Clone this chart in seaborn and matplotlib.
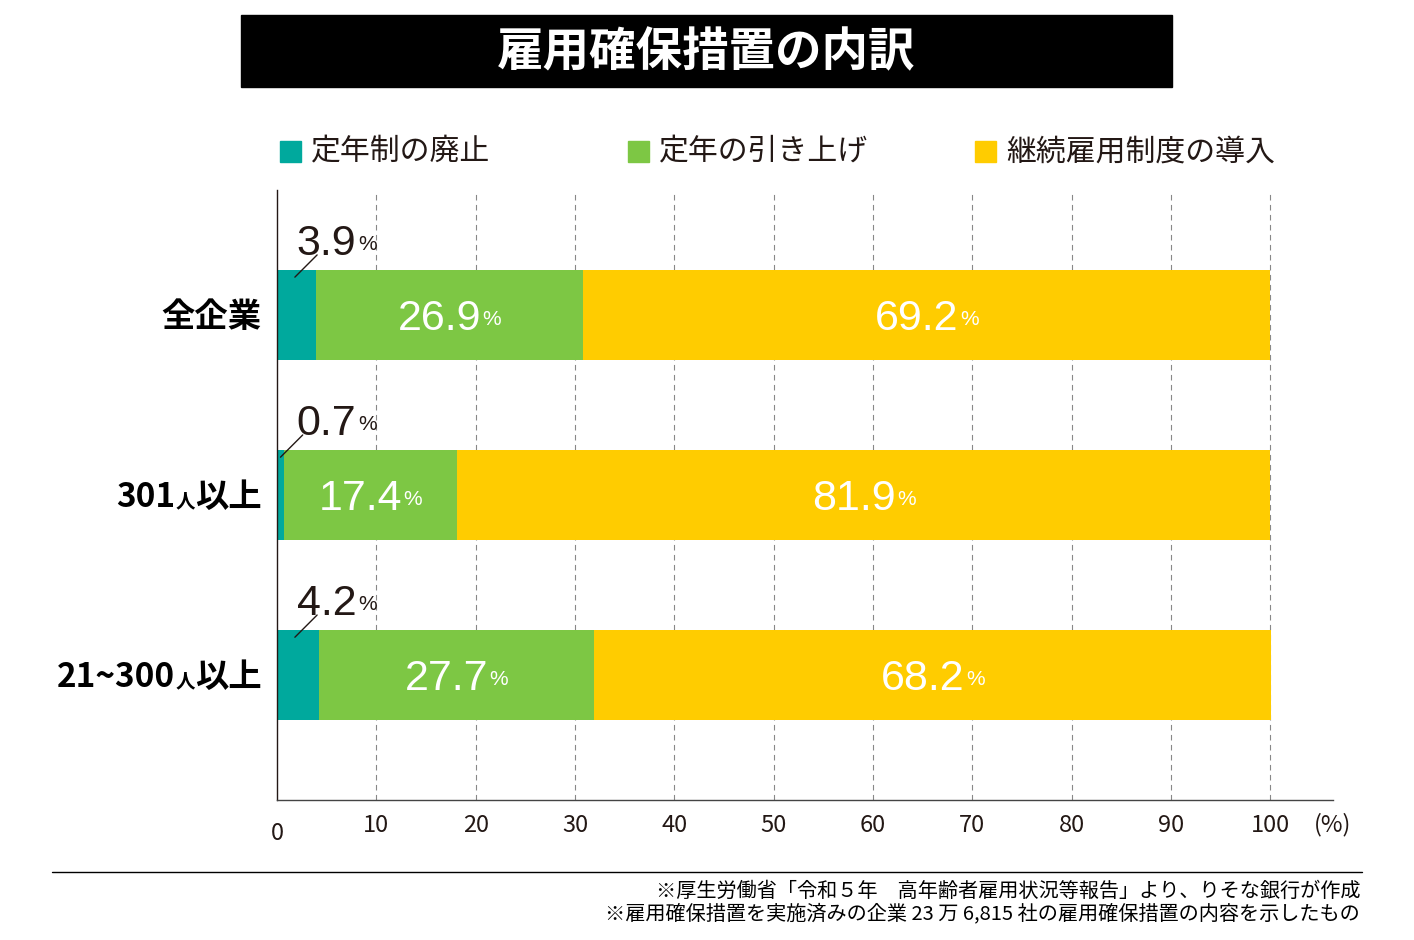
import numpy as np
import pandas as pd
import matplotlib
matplotlib.use('Agg')
import matplotlib.pyplot as plt
import seaborn as sns
from matplotlib.patches import Rectangle
from matplotlib.lines import Line2D
from matplotlib.offsetbox import TextArea, HPacker, AnnotationBbox

# ---------------------------------------------------------------------------
# Data
# ---------------------------------------------------------------------------
TITLE = '雇用確保措置の内訳'
categories = ['全企業', '301人以上', '21~300人以上']
series_names = ['定年制の廃止', '定年の引き上げ', '継続雇用制度の導入']
abolish = [3.9, 0.7, 4.2]
raise_age = [26.9, 17.4, 27.7]
continued = [69.2, 81.9, 68.2]
colors = ['#00A99D', '#7DC744', '#FFCC00']
x_ticks = [10, 20, 30, 40, 50, 60, 70, 80, 90, 100]
notes = ['※厚生労働省「令和５年　高年齢者雇用状況等報告」より、りそな銀行が作成',
         '※雇用確保措置を実施済みの企業 23 万 6,815 社の雇用確保措置の内容を示したもの']

W, H = 1414, 940
JP = ['Noto Sans CJK JP', 'DejaVu Sans']
NUM = ['Liberation Sans', 'DejaVu Sans']

sns.set_theme(style='white')
plt.rcParams['font.family'] = JP


def fx(px):
    return px / W


def fy(py):
    return 1 - py / H


def mixed(parts, sep=2, align='baseline'):
    boxes = [TextArea(t, textprops=dict(**kw)) for t, kw in parts]
    return HPacker(children=boxes, align=align, pad=0, sep=sep)


fig = plt.figure(figsize=(W / 100, H / 100), dpi=100)
ax = fig.add_axes([fx(277), fy(800), fx(1333 - 277), (800 - 190) / H])

# title box
fig.patches.append(Rectangle((fx(241), fy(87)), fx(1172 - 241), (87 - 15) / H,
                             transform=fig.transFigure, color='black'))
fig.text(fx(706), fy(52), TITLE, color='white', fontsize=33.5, fontweight='bold',
         ha='center', va='center')

# legend (manual, fixed slots)
for name, col, x0 in zip(series_names, colors, [280, 628, 975]):
    fig.patches.append(Rectangle((fx(x0), fy(162)), fx(21), 21 / H,
                                 transform=fig.transFigure, color=col))
    fig.text(fx(x0 + 31), fy(152), name, fontsize=21.5, color='#231815',
             ha='left', va='center')

# ---------------------------------------------------------------------------
# Stacked bars (draw cumulative totals back to front)
# ---------------------------------------------------------------------------
df = pd.DataFrame({'cat': categories, 'a': abolish, 'b': raise_age, 'c': continued})
df['cum_b'] = df['a'] + df['b']
df['cum_c'] = df['cum_b'] + df['c']

for col_name, color in [('cum_c', colors[2]), ('cum_b', colors[1]), ('a', colors[0])]:
    sns.barplot(data=df, x=col_name, y='cat', color=color, orient='h',
                width=0.5, saturation=1, errorbar=None, ax=ax, zorder=2,
                linewidth=0, edgecolor='none')

ax.set_xlim(0, 106.3)
ax.set_ylim(2.694, -0.694)
ax.set_xlabel('')
ax.set_ylabel('')
ax.set_xticks(x_ticks)
ax.set_xticklabels([str(t) for t in x_ticks])
ax.tick_params(axis='x', length=0, pad=10, labelsize=17, labelcolor='#231815')
ax.set_yticks(range(len(categories)))
ax.set_yticklabels([''] * len(categories))
ax.tick_params(axis='y', length=0)
ax.xaxis.grid(True, linestyle=(0, (5, 4)), color='#888888', lw=0.8)
ax.yaxis.grid(False)
ax.set_axisbelow(True)
for s in ['top', 'right']:
    ax.spines[s].set_visible(False)
ax.spines['left'].set_color('#231815')
ax.spines['bottom'].set_color('#444444')
ax.spines['left'].set_linewidth(1)
ax.spines['bottom'].set_linewidth(1)

# "0" and "(%)" labels
ax.annotate('0', xy=(0, 0), xycoords=ax.get_xaxis_transform(), xytext=(0, -24),
            textcoords='offset points', ha='center', va='center', fontsize=17,
            color='#231815')
ax.annotate('(%)', xy=(1, 0), xycoords='axes fraction', xytext=(0, -18),
            textcoords='offset points', ha='center', va='center', fontsize=17,
            color='#231815')

# category labels with small 人
for i, cat in enumerate(categories):
    big = dict(fontsize=24, fontweight='bold', color='black', family=JP)
    small = dict(fontsize=14, fontweight='bold', color='black', family=JP)
    if '人' in cat:
        head, tail = cat.split('人')
        parts = [(head, big), ('人', small), (tail, big)]
    else:
        parts = [(cat, big)]
    ab = AnnotationBbox(mixed(parts, sep=0), (0, i), xycoords=ax.get_yaxis_transform(),
                        xybox=(-11, -2), boxcoords='offset points',
                        box_alignment=(1, 0.5), frameon=False, pad=0)
    ax.add_artist(ab)

# value labels
for i in range(len(categories)):
    a, b, c = abolish[i], raise_age[i], continued[i]
    # teal value outside, with leader line
    parts = [(f'{a:.1f}', dict(fontsize=31, color='#231815', family=NUM)),
             ('%', dict(fontsize=15, color='#231815', family=NUM))]
    ab = AnnotationBbox(mixed(parts, sep=1, align='center'), (2.0, i - 0.25),
                        xybox=(0, 4), boxcoords='offset points',
                        box_alignment=(0, 0), frameon=False, pad=0)
    ax.add_artist(ab)
    x_start = min(a / 2, 1.8)
    ax.annotate('', xy=(x_start, i - 0.25 + 0.04), xytext=(16, 16),
                textcoords='offset points',
                arrowprops=dict(arrowstyle='-', color='#231815', lw=1,
                                shrinkA=0, shrinkB=0))
    # inner white labels
    for left, v in [(a, b), (a + b, c)]:
        parts = [(f'{v:.1f}', dict(fontsize=31, color='white', family=NUM)),
                 ('%', dict(fontsize=15, color='white', family=NUM))]
        ab = AnnotationBbox(mixed(parts, sep=1, align='center'), (left + v / 2, i),
                            xybox=(0, -3), boxcoords='offset points',
                            box_alignment=(0.5, 0.5), frameon=False, pad=0)
        ax.add_artist(ab)

# footnotes
fig.add_artist(Line2D([fx(52), fx(1362)], [fy(872), fy(872)], color='black', lw=1))
for k, note in enumerate(notes):
    fig.text(fx(1360), fy(891 + 23 * k), note, fontsize=14.5, color='black',
             ha='right', va='center')

fig.savefig('out.png', dpi=100)
